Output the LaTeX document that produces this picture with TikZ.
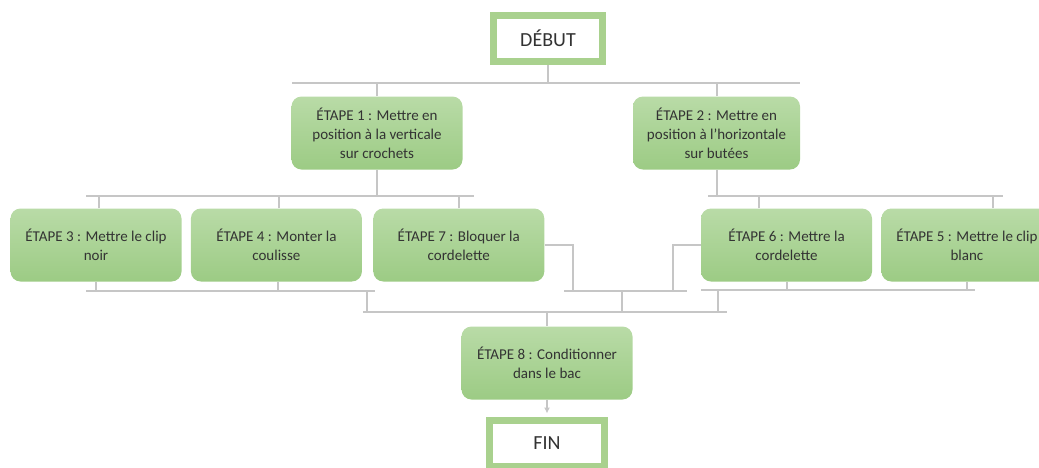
\documentclass[tikz,border=0pt]{standalone}
\usepackage{fontspec}
\setmainfont{Carlito}
\usetikzlibrary{arrows.meta,positioning,calc}
\definecolor{termgreen}{HTML}{A9D18E}
\definecolor{steptop}{HTML}{B9DBA7}
\definecolor{stepbottom}{HTML}{9CCB84}
\definecolor{linkgray}{HTML}{C6C6C6}
\definecolor{textgray}{HTML}{333333}

\begin{document}
\begin{tikzpicture}[
x=1pt, y=-1pt,
node distance=9pt,
endbox/.style={draw=termgreen, line width=7pt, fill=white, minimum width=109pt, minimum height=46pt, text=textgray, font=\fontsize{20}{24}\selectfont},
stepbox/.style={rounded corners=10pt, top color=steptop, bottom color=stepbottom, align=center, minimum width=171pt, minimum height=73pt, inner sep=2pt, text=textgray, font=\fontsize{15}{19}\selectfont},
link/.style={draw=linkgray, line width=2pt},
arrow/.style={link, -{Latex[length=6pt, width=6pt]}}
]
\useasboundingbox (0,0) rectangle (1039,467);

\node[endbox] (debut) at (548,38.5) {DÉBUT};
\node[stepbox] (e1) at (377,133) {ÉTAPE 1 : Mettre en\\position à la verticale\\sur crochets};
\node[stepbox, minimum width=167pt] (e2) at (716.5,133) {ÉTAPE 2 : Mettre en\\position à l’horizontale\\sur butées};
\node[stepbox] (e3) at (96,245) {ÉTAPE 3 : Mettre le clip\\noir};
\node[stepbox, right=of e3] (e4) {ÉTAPE 4 : Monter la\\coulisse};
\node[stepbox, right=11pt of e4] (e7) {ÉTAPE 7 : Bloquer la\\cordelette};
\node[stepbox] (e6) at (786.5,245) {ÉTAPE 6 : Mettre la\\cordelette};
\node[stepbox, right=of e6] (e5) {ÉTAPE 5 : Mettre le clip\\blanc};
\node[stepbox] (e8) at (547,363) {ÉTAPE 8 : Conditionner\\dans le bac};
\node[endbox, minimum width=115pt] (fin) at (547,443.5) {FIN};

\coordinate (bar0 l) at (292,83);
\coordinate (bar0 r) at (800,83);
\coordinate (bar1 l) at (86,196);
\coordinate (bar1 r) at (474,196);
\coordinate (bar2 l) at (708,196);
\coordinate (bar2 r) at (1003,196);
\coordinate (bar3 l) at (86,291);
\coordinate (bar3 r) at (375,291);
\coordinate (bar4 l) at (564,291);
\coordinate (bar4 r) at (687,291);
\coordinate (bar5 l) at (701,290);
\coordinate (bar5 r) at (975,290);
\coordinate (bar6 l) at (363,312);
\coordinate (bar6 r) at (727,312);
\coordinate (j3) at (367,291);
\coordinate (j4) at (622,291);
\coordinate (j5) at (718,290);
\coordinate (k7) at (573,291);
\coordinate (k6) at (673,291);

\draw[link] (bar0 l) -- (bar0 r);
\draw[link] (debut.south) -- (debut.south |- bar0 l);
\draw[link] (e1.north) -- (e1.north |- bar0 l);
\draw[link] (e2.north) -- (e2.north |- bar0 l);

\draw[link] (bar1 l) -- (bar1 r);
\draw[link] (e1.south) -- (e1.south |- bar1 l);
\draw[link] ([xshift=3pt]e3.north) -- ([xshift=3pt]e3.north |- bar1 l);
\draw[link] ([xshift=3pt]e4.north) -- ([xshift=3pt]e4.north |- bar1 l);
\draw[link] (e7.north) -- (e7.north |- bar1 l);

\draw[link] (bar2 l) -- (bar2 r);
\draw[link] (e2.south) -- (e2.south |- bar2 l);
\draw[link] ([xshift=-28pt]e6.north) -- ([xshift=-28pt]e6.north |- bar2 l);
\draw[link] ([xshift=26.5pt]e5.north) -- ([xshift=26.5pt]e5.north |- bar2 l);

\draw[link] (bar3 l) -- (bar3 r);
\draw[link] (e3.south) -- (e3.south |- bar3 l);
\draw[link] ([xshift=1.5pt]e4.south) -- ([xshift=1.5pt]e4.south |- bar3 l);
\draw[link] (j3) -- (j3 |- bar6 l);

\draw[link] (bar4 l) -- (bar4 r);
\draw[link] (e7.east) -| (k7);
\draw[link] (k6) |- (e6.west);
\draw[link] (j4) -- (j4 |- bar6 l);

\draw[link] (bar5 l) -- (bar5 r);
\draw[link] (e6.south) -- (e6.south |- bar5 l);
\draw[link] (e5.south) -- (e5.south |- bar5 l);
\draw[link] (j5) -- (j5 |- bar6 l);

\draw[link] (bar6 l) -- (bar6 r);
\draw[link] (e8.north |- bar6 l) -- (e8.north);
\draw[arrow] (e8.south) -- ([yshift=3.5pt]fin.north);
\end{tikzpicture}
\end{document}
